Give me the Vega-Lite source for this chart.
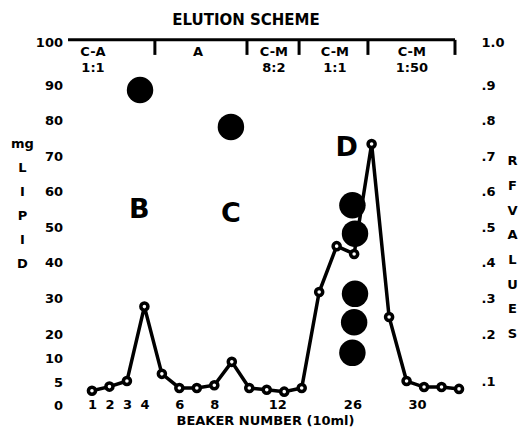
{
  "$schema": "https://vega.github.io/schema/vega-lite/v6.json",
  "width": 409,
  "height": 366,
  "autosize": "none",
  "padding": {"left": 60.5, "top": 32, "right": 51.5, "bottom": 32},
  "background": "white",
  "config": {
    "view": {"stroke": null},
    "font": "DejaVu Sans",
    "axis": {"grid": false, "domain": false, "ticks": false, "tickSize": 0, "labelFontWeight": "bold", "labelFontSize": 13, "labelColor": "black", "titleColor": "black", "titleFontWeight": "bold", "labelOverlap": false, "labelFlush": false, "labelBound": false}
  },
  "title": {"text": "ELUTION SCHEME", "fontSize": 15, "fontWeight": "bold", "anchor": "middle", "dx": -19, "offset": 4, "color": "black", "font": "DejaVu Sans"},
  "datasets": {
    "lipid": [
      {"bx": 1, "mg": 3.1}, {"bx": 2, "mg": 4.0}, {"bx": 3, "mg": 5.2}, {"bx": 4, "mg": 27.7},
      {"bx": 5, "mg": 6.7}, {"bx": 6, "mg": 3.7}, {"bx": 7, "mg": 3.7}, {"bx": 8, "mg": 4.3},
      {"bx": 9, "mg": 9.2}, {"bx": 10, "mg": 3.7}, {"bx": 11, "mg": 3.3}, {"bx": 12, "mg": 2.9},
      {"bx": 13, "mg": 3.7}, {"bx": 14, "mg": 31.8}, {"bx": 15, "mg": 44.7}, {"bx": 16, "mg": 42.5},
      {"bx": 17, "mg": 73.4}, {"bx": 18, "mg": 24.8}, {"bx": 19, "mg": 5.2}, {"bx": 20, "mg": 3.9},
      {"bx": 21, "mg": 3.9}, {"bx": 22, "mg": 3.5}
    ],
    "scheme": [
      {"bx": -0.37, "bx2": 21.77, "mg": 100.5, "mg2": 100.5},
      {"bx": 4.6, "bx2": 4.6, "mg": 100.5, "mg2": 97},
      {"bx": 9.87, "bx2": 9.87, "mg": 100.5, "mg2": 97},
      {"bx": 12.85, "bx2": 12.85, "mg": 100.5, "mg2": 97},
      {"bx": 16.79, "bx2": 16.79, "mg": 100.5, "mg2": 97},
      {"bx": 21.77, "bx2": 21.77, "mg": 100.5, "mg2": 97}
    ],
    "solvents": [
      {"bx": 1.06, "mg": 96.7, "lbl": "C-A\n1:1"},
      {"bx": 7.07, "mg": 96.7, "lbl": "A"},
      {"bx": 11.41, "mg": 96.7, "lbl": "C-M\n8:2"},
      {"bx": 14.9, "mg": 96.7, "lbl": "C-M\n1:1"},
      {"bx": 19.3, "mg": 96.7, "lbl": "C-M\n1:50"}
    ],
    "spots": [
      {"bx": 3.75, "rf": 0.886},
      {"bx": 8.95, "rf": 0.782},
      {"bx": 15.9, "rf": 0.562},
      {"bx": 16.05, "rf": 0.482},
      {"bx": 16.05, "rf": 0.313},
      {"bx": 16.0, "rf": 0.233},
      {"bx": 15.9, "rf": 0.16}
    ],
    "letters": [
      {"bx": 3.71, "rf": 0.548, "t": "B"},
      {"bx": 8.95, "rf": 0.537, "t": "C"},
      {"bx": 15.57, "rf": 0.723, "t": "D"}
    ]
  },
  "layer": [
    {
      "layer": [
        {
          "data": {"name": "lipid"},
          "mark": {"type": "line", "color": "black", "strokeWidth": 3.5},
          "encoding": {
            "x": {"field": "bx", "type": "quantitative",
              "scale": {"domain": [-0.8, 22.6], "nice": false, "zero": false},
              "axis": {"values": [1, 2, 3, 4, 6, 8, 11.6, 15.9, 19.6], "tickCount": 30, "labelExpr": "datum.value == 11.6 ? '12' : datum.value == 15.9 ? '26' : datum.value == 19.6 ? '30' : datum.label", "title": "BEAKER NUMBER (10ml)", "titleFontSize": 13, "labelPadding": 0, "titlePadding": 3}},
            "y": {"field": "mg", "type": "quantitative",
              "scale": {"domain": [0, 5, 10, 20, 90, 100], "range": [373, 350, 326, 302, 53, 10], "nice": false, "zero": false},
              "axis": {"orient": "left", "values": [0, 5, 10, 20, 30, 40, 50, 60, 70, 80, 90, 100], "tickCount": 30, "labelPadding": -2, "title": ["mg", "L", "I", "P", "I", "D"], "titleAngle": 0, "titleAlign": "center", "titleBaseline": "alphabetic", "titleX": -38.5, "titleY": 115.7, "titleLineHeight": 24, "titleFontSize": 13}}
          }
        },
        {
          "data": {"name": "scheme"},
          "mark": {"type": "rule", "color": "black", "strokeWidth": 3},
          "encoding": {
            "x": {"field": "bx", "type": "quantitative"},
            "x2": {"field": "bx2"},
            "y": {"field": "mg", "type": "quantitative"},
            "y2": {"field": "mg2"}
          }
        },
        {
          "data": {"name": "lipid"},
          "mark": {"type": "point", "filled": true, "fill": "white", "stroke": "black", "strokeWidth": 3.5, "size": 50, "opacity": 1},
          "encoding": {
            "x": {"field": "bx", "type": "quantitative"},
            "y": {"field": "mg", "type": "quantitative"}
          }
        },
        {
          "data": {"name": "solvents"},
          "mark": {"type": "text", "lineBreak": "\n", "fontSize": 13, "fontWeight": "bold", "baseline": "alphabetic", "align": "center", "lineHeight": 16, "color": "black"},
          "encoding": {
            "x": {"field": "bx", "type": "quantitative"},
            "y": {"field": "mg", "type": "quantitative"},
            "text": {"field": "lbl"}
          }
        }
      ]
    },
    {
      "layer": [
        {
          "data": {"name": "spots"},
          "mark": {"type": "circle", "color": "black", "size": 700, "opacity": 1},
          "encoding": {
            "x": {"field": "bx", "type": "quantitative"},
            "y": {"field": "rf", "type": "quantitative",
              "scale": {"domain": [0.1, 0.2, 0.9, 1.0], "range": [349, 302, 53, 10], "nice": false, "zero": false},
              "axis": {"orient": "right", "values": [0.1, 0.2, 0.3, 0.4, 0.5, 0.6, 0.7, 0.8, 0.9, 1.0], "tickCount": 30, "labelExpr": "datum.value >= 1 ? '1.0' : replace(format(datum.value, '.1f'), '0.', '.')", "labelPadding": 11.5, "labelAlign": "left", "title": ["R", "F", "V", "A", "L", "U", "E", "S"], "titleAngle": 0, "titleAlign": "center", "titleBaseline": "alphabetic", "titleX": 42.5, "titleY": 132.7, "titleLineHeight": 24.7, "titleFontSize": 13}}
          }
        },
        {
          "data": {"name": "letters"},
          "mark": {"type": "text", "fontSize": 27, "fontWeight": "bold", "baseline": "middle", "align": "center", "color": "black"},
          "encoding": {
            "x": {"field": "bx", "type": "quantitative"},
            "y": {"field": "rf", "type": "quantitative"},
            "text": {"field": "t"}
          }
        }
      ]
    }
  ],
  "resolve": {"scale": {"y": "independent"}}
}
